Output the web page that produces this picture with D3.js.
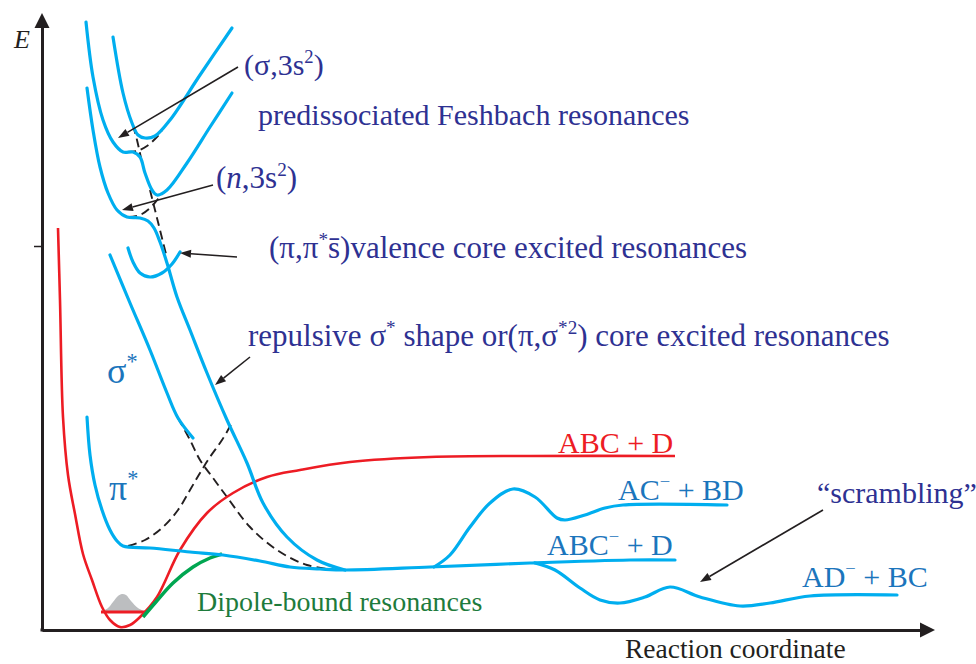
<!DOCTYPE html>
<html lang="en">
<head>
<meta charset="utf-8" />
<title>Anion potential energy curves</title>
<style>
  body { margin: 0; background: #fff; }
  svg { display: block; font-family: "Liberation Serif", "Times New Roman", "DejaVu Serif", serif; }
</style>
</head>
<body>
<svg id="chart" width="976" height="664"></svg>
<script src="https://d3js.org/d3.v7.min.js"></script>
<script>
// each curve: [reaction coordinate, energy]
const feshOuter = [[44,608],[51,553],[61,510],[71,488],[81,478],[91,478],[98,473],[103,457],[110,440],[115,435],[125,440],[145,467],[168,503],[190,537]];
const feshInner = [[71,593],[81,537],[90,507],[96,495],[103,492],[113,494],[128,510],[158,555],[190,602]];
const repulsive = [[45,542],[51,500],[58,463],[66,437],[75,420],[85,413],[98,412],[106,409],[112,402],[118,388],[125,367],[135,333],[148,300],[165,257],[185,210],[205,167],[221,127],[245,93],[275,70],[303,60]];
const piStar = [[45,213],[48,175],[53,145],[60,120],[68,100],[75,89],[81,84],[108,82],[148,78],[181,75],[218,69],[248,63],[278,61],[303,60],[388,63],[488,67],[588,70],[633,70]];
const sigmaStar = [[68,375],[88,327],[108,280],[125,237],[136,212],[151,192]];
const valence = [[86,382],[91,368],[98,357],[108,353],[120,357],[130,366],[138,378]];
const acBranch = [[392,63],[408,75],[428,103],[448,127],[471,141],[493,133],[515,112],[523,110],[543,115],[563,122],[581,125],[685,125]];
const adBranch = [[493,67],[513,60],[538,42],[558,30],[578,27],[603,33],[628,43],[658,33],[698,24],[728,27],[768,34],[855,35]];
const neutral = [[16,402],[18,330],[21,213],[26,155],[33,116],[41,76],[50,50],[60,23],[68,10],[78,3],[88,5],[98,13],[115,33],[138,80],[165,117],[191,137],[225,153],[258,160],[308,168],[388,173],[488,174],[633,174]];
const dipoleBound = [[101,13],[113,27],[131,47],[151,63],[168,72],[180,76]];
const vibLevel = [[59,18],[104,18]];
const vibDensity = [[59,18],[66,22],[71,28],[76,34],[80,36],[84,35],[89,29],[96,22],[104,18]];

// diabatic (dashed) continuations
const diabatic = [
  [[136,212],[148,190],[158,170],[171,152],[185,133],[208,103],[235,80],[265,65],[295,60]],
  [[86,84],[103,90],[121,103],[136,120],[148,140],[158,157],[168,173],[180,190],[190,207]],
  [[91,505],[95,490],[99,472]],
  [[85,478],[95,479],[105,484],[113,491],[120,499]],
  [[108,440],[113,420],[118,400],[125,372]],
  [[86,413],[98,415],[108,422],[116,431],[121,437]]
];

// annotation arrows: [from, to]
const pointers = [
  [[196,563],[76,492]],
  [[171,445],[80,420]],
  [[195,373],[138,377]],
  [[208,273],[173,245]],
  [[781,120],[658,48]]
];

const yTicks = [384];

const NAVY = "#2e3192", BLUE = "#1b75bc", CYAN = "#00aeef", RED = "#ed1c24",
      GREEN = "#00a651", DKGREEN = "#1e7b3c", INK = "#231f20";

const labels = [
  {at:[202,555], size:30, color:NAVY, parts:[["(σ,3s"],["2","sup"],[")"]]},
  {at:[216,505], size:30, color:NAVY, parts:[["predissociated Feshbach resonances"]]},
  {at:[174,442], size:31, color:NAVY, parts:[["("],["n","it"],[",3s"],["2","sup"],[")"]]},
  {at:[227,372], size:31, color:NAVY, parts:[["(π,π"],["*","sup"],["s\u0304"],[")valence core excited resonances"]]},
  {at:[206,284], size:31, color:NAVY, parts:[["repulsive σ"],["*","sup"],[" shape or(π,σ"],["*2","sup"],[") core excited resonances"]]},
  {at:[65,247], size:36, color:BLUE, parts:[["σ"],["*","sup"]]},
  {at:[67,130], size:36, color:BLUE, parts:[["π"],["*","sup"]]},
  {at:[516,177], size:30, color:RED, parts:[["ABC + D"]]},
  {at:[576,130], size:30, color:BLUE, parts:[["AC"],["−","sup"],[" + BD"]]},
  {at:[505,75], size:30, color:BLUE, parts:[["ABC"],["−","sup"],[" + D"]]},
  {at:[775,127], size:30, color:NAVY, parts:[["“scrambling”"]]},
  {at:[760,43], size:30, color:BLUE, parts:[["AD"],["−","sup"],[" + BC"]]},
  {at:[155,19], size:28, color:DKGREEN, parts:[["Dipole-bound resonances"]]},
  {at:[583,-28], size:27.5, color:INK, parts:[["Reaction coordinate"]]},
  {at:[-28,582], size:26, color:INK, parts:[["E","it"]]}
];

const svg = d3.select("#chart");
const x = d3.scaleLinear().domain([0, 900]).range([42, 942]);
const y = d3.scaleLinear().domain([0, 620]).range([630, 10]);

const line = d3.line().x(d => x(d[0])).y(d => y(d[1])).curve(d3.curveCatmullRom.alpha(0.5));

// axes
const xAxis = d3.axisBottom(x.copy().domain([0, 880]).range([x(0), x(880)])).tickValues([]).tickSizeOuter(0);
const yAxis = d3.axisLeft(y.copy().domain([0, 604]).range([y(0), y(604)])).tickValues(yTicks).tickFormat("").tickSize(8).tickSizeOuter(0);
const gx = svg.append("g").attr("transform", `translate(0,${y(0)})`).call(xAxis);
const gy = svg.append("g").attr("transform", `translate(${x(0)},0)`).call(yAxis);
[gx, gy].forEach(g => {
  g.select(".domain").attr("stroke", INK).attr("stroke-width", 3);
  g.selectAll(".tick line").attr("stroke", INK).attr("stroke-width", 1.5);
});
svg.append("rect").attr("x", x(0) - 1.5).attr("y", y(0) - 1.5).attr("width", 3).attr("height", 3).attr("fill", INK);
// axis arrowheads
const xe = x(880), ye = y(604);
svg.append("path").attr("d", `M${xe - 2},${y(0) - 7.5}L${xe + 13},${y(0)}L${xe - 2},${y(0) + 7.5}Z`).attr("fill", INK);
svg.append("path").attr("d", `M${x(0) - 7.5},${ye + 2}L${x(0)},${ye - 13}L${x(0) + 7.5},${ye + 2}Z`).attr("fill", INK);

// dashed diabatic curves
svg.append("g").selectAll("path").data(diabatic).join("path")
  .attr("d", line).attr("fill", "none").attr("stroke", INK)
  .attr("stroke-width", 1.9).attr("stroke-dasharray", "9,5");

// vibrational density
svg.append("path")
  .attr("d", d3.area().x(d => x(d[0])).y0(y(18)).y1(d => y(d[1])).curve(d3.curveCatmullRom)(vibDensity))
  .attr("fill", "#bcbec0");

// neutral curve
svg.append("path").attr("d", line(neutral)).attr("fill", "none").attr("stroke", RED).attr("stroke-width", 2.6);
svg.append("path").attr("d", line(vibLevel)).attr("fill", "none").attr("stroke", RED).attr("stroke-width", 3);
svg.append("path").attr("d", line(dipoleBound)).attr("fill", "none").attr("stroke", GREEN).attr("stroke-width", 3.5);

// anion curves
svg.append("g").selectAll("path")
  .data([feshOuter, feshInner, repulsive, piStar, sigmaStar, valence, acBranch, adBranch])
  .join("path").attr("d", line).attr("fill", "none").attr("stroke", CYAN)
  .attr("stroke-width", 3.2).attr("stroke-linecap", "round");

// pointer arrows
const ptr = svg.append("g");
pointers.forEach(([a, b]) => {
  const x1 = x(a[0]), y1 = y(a[1]), x2 = x(b[0]), y2 = y(b[1]);
  const ang = Math.atan2(y2 - y1, x2 - x1), L = 11, W = 4;
  const bx = x2 - L * Math.cos(ang), by = y2 - L * Math.sin(ang);
  ptr.append("line").attr("x1", x1).attr("y1", y1).attr("x2", bx).attr("y2", by)
    .attr("stroke", INK).attr("stroke-width", 1.6);
  ptr.append("path").attr("fill", INK).attr("d",
    `M${x2},${y2}L${bx + W * Math.sin(ang)},${by - W * Math.cos(ang)}L${bx - W * Math.sin(ang)},${by + W * Math.cos(ang)}Z`);
});

// labels
labels.forEach(l => {
  const t = svg.append("text").attr("x", x(l.at[0])).attr("y", y(l.at[1]))
    .attr("fill", l.color).attr("font-size", l.size);
  const shift = l.size * 0.4;
  let raised = false;
  l.parts.forEach(([str, kind]) => {
    const sp = t.append("tspan").text(str);
    const sup = kind === "sup";
    if (sup && !raised) sp.attr("dy", -shift);
    if (!sup && raised) sp.attr("dy", shift);
    if (sup) sp.attr("font-size", l.size * 0.62);
    if (kind === "it") sp.attr("font-style", "italic");
    raised = sup;
  });
});
</script>
</body>
</html>
